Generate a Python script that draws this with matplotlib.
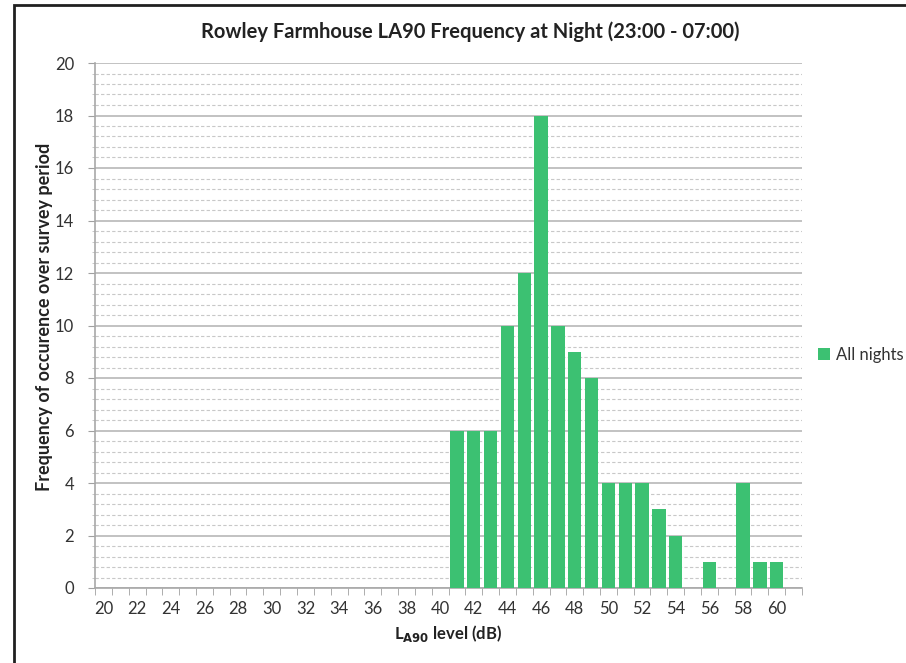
import matplotlib.pyplot as plt
from matplotlib.patches import Rectangle
from matplotlib.ticker import MultipleLocator

# LA90 level categories (dB) and number of night-time occurrences
levels = list(range(20, 62))
counts = [0] * 21 + [6, 6, 6, 10, 12, 18, 10, 9, 8, 4, 4, 4, 3, 2, 0, 1, 0, 4, 1, 1, 0]
tick_labels = [str(v) if v % 2 == 0 and v <= 60 else '' for v in levels]

plt.rcParams['font.family'] = ['Lato', 'DejaVu Sans']

fig = plt.figure(figsize=(9.06, 6.63), dpi=100)
ax = fig.add_axes([95 / 906, 75 / 663, 707 / 906, 525 / 663])

bar_color = '#3cc172'
ax.bar(levels, counts, width=0.8, color=bar_color, label='All nights', zorder=3)

ax.set_xlim(levels[0] - 0.5, levels[-1] + 0.5)
ax.set_ylim(0, 20)

# category labels centred on bars, tick marks between categories
ax.set_xticks(levels)
ax.set_xticklabels(tick_labels)
ax.set_xticks([v - 0.5 for v in levels] + [levels[-1] + 0.5], minor=True)
ax.tick_params(axis='x', which='major', length=0, pad=9, labelsize=12, colors='#333333')
ax.tick_params(axis='x', which='minor', length=5, color='#a0a0a0', direction='out')

ax.yaxis.set_major_locator(MultipleLocator(2))
ax.yaxis.set_minor_locator(MultipleLocator(0.4))
ax.tick_params(axis='y', which='major', length=5, labelsize=12, colors='#333333', pad=10)
ax.tick_params(axis='y', which='major', color='#a0a0a0')
ax.tick_params(axis='y', which='minor', length=2.5, color='#c0c0c0')

ax.grid(axis='y', which='major', color='#b8b8b8', linewidth=1.2, zorder=0)
ax.grid(axis='y', which='minor', color='#c8c8c8', linewidth=0.8, linestyle=(0, (3, 2)), zorder=0)

for side in ('top', 'right'):
    ax.spines[side].set_visible(False)
for side in ('left', 'bottom'):
    ax.spines[side].set_color('#a8a8a8')
    ax.spines[side].set_linewidth(1.2)

fig.text(470 / 906, 1 - 32 / 663, 'Rowley Farmhouse LA90 Frequency at Night (23:00 - 07:00)',
         ha='center', va='center', fontsize=14.5, fontweight='bold', color='#222222')
ax.set_ylabel('Frequency of occurence over survey period', fontsize=13,
              fontweight='bold', color='#222222')
ax.yaxis.set_label_coords(-42 / 707, (588 - 317) / 525)
ax.set_xlabel(r'L$_{\mathbf{A90}}$ level (dB)', fontsize=12, fontweight='bold',
              color='#222222', labelpad=5)

fig.legend(loc='center left', bbox_to_anchor=(818 / 906, 1 - 355 / 663), frameon=False,
           borderpad=0, borderaxespad=0, handlelength=0.7, handleheight=0.7,
           handletextpad=0.4, fontsize=12, labelcolor='#333333')

# chart area border
fig.patches.append(Rectangle((14 / 906, -0.05), 1.2, 1 - 5 / 663 + 0.05,
                             transform=fig.transFigure, fill=False,
                             edgecolor='#202020', linewidth=2))

fig.savefig('out.png', dpi=100)
